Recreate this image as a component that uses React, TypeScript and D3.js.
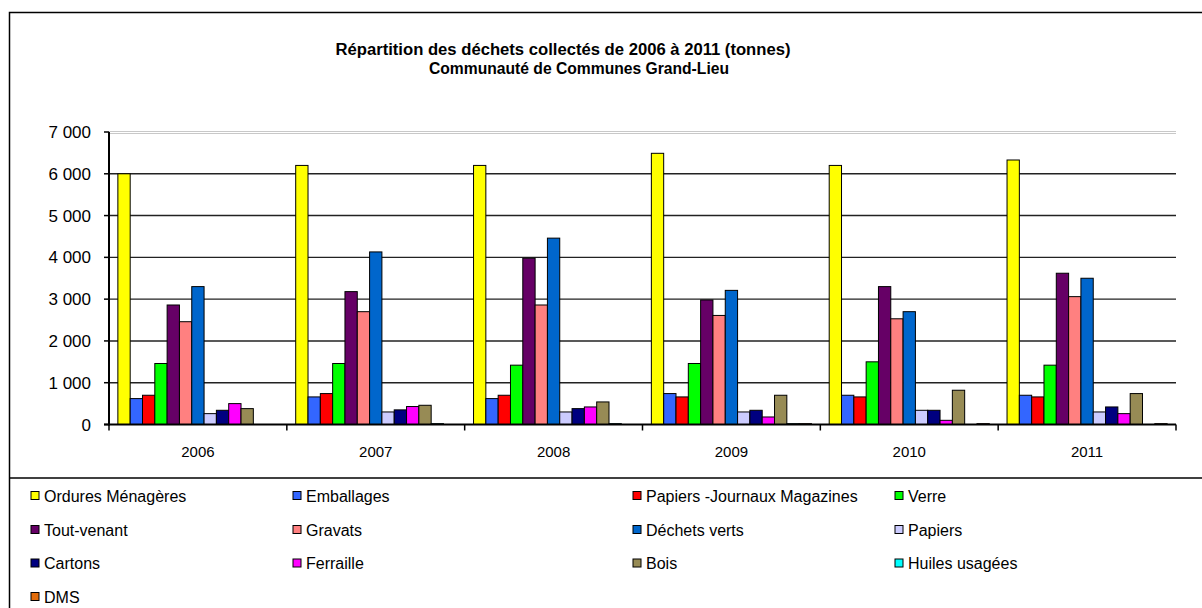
import React from "react";
import * as d3 from "d3";

const years = ["2006", "2007", "2008", "2009", "2010", "2011"];

const seriesNames = [
  "Ordures Ménagères",
  "Emballages",
  "Papiers -Journaux Magazines",
  "Verre",
  "Tout-venant",
  "Gravats",
  "Déchets verts",
  "Papiers",
  "Cartons",
  "Ferraille",
  "Bois",
  "Huiles usagées",
  "DMS",
];

const seriesColors = [
  "#FFFF00",
  "#3366FF",
  "#FF0000",
  "#00FF00",
  "#660066",
  "#FF8080",
  "#0066CC",
  "#CCCCFF",
  "#000080",
  "#FF00FF",
  "#978B55",
  "#00FFFF",
  "#E36C0A",
];

// values per series, indexed by year 2006..2011
const ordures = [6000, 6200, 6200, 6490, 6200, 6330];
const emballages = [620, 660, 620, 740, 700, 700];
const papiersJM = [700, 740, 700, 660, 660, 660];
const verre = [1460, 1460, 1420, 1460, 1500, 1420];
const toutVenant = [2860, 3180, 3980, 2980, 3300, 3620];
const gravats = [2460, 2700, 2860, 2610, 2530, 3060];
const dechetsVerts = [3300, 4130, 4460, 3210, 2700, 3500];
const papiers = [260, 300, 300, 300, 340, 300];
const cartons = [340, 350, 380, 340, 340, 420];
const ferraille = [500, 430, 420, 180, 100, 260];
const bois = [380, 460, 540, 700, 820, 740];
const huiles = [0, 20, 20, 20, 0, 0];
const dms = [0, 0, 0, 20, 20, 20];

const seriesValues = [
  ordures, emballages, papiersJM, verre, toutVenant, gravats,
  dechetsVerts, papiers, cartons, ferraille, bois, huiles, dms,
];

const yTicks = [0, 1000, 2000, 3000, 4000, 5000, 6000, 7000];
const yTickLabels = ["0", "1 000", "2 000", "3 000", "4 000", "5 000", "6 000", "7 000"];

const titleLines = [
  "Répartition des déchets collectés de 2006 à 2011 (tonnes)",
  "Communauté de Communes Grand-Lieu",
];

const W = 1202;
const H = 608;
const plotLeft = 109;
const plotRight = 1176;
const plotTop = 132;
const plotBottom = 424.5;
const titleCenters = [563, 579];
const titleWidths = [455, 300];
const legendCols = [31, 293, 633, 895];
const legendRows = [496, 530, 563.5, 597];
const font = "'Liberation Sans', Arial, sans-serif";

export default function App() {
  const x0 = d3.scaleBand<string>().domain(years).range([plotLeft, plotRight]).padding(0);
  const x1 = d3
    .scaleBand<number>()
    .domain(d3.range(seriesNames.length))
    .range([0, x0.bandwidth()])
    .paddingInner(0)
    .paddingOuter(0.72);
  const y = d3.scaleLinear().domain([0, 7000]).range([plotBottom, plotTop]);

  const boundaries = years.map((yr) => x0(yr)!).concat([plotRight]);

  return (
    <div style={{ position: "absolute", left: 0, top: 0, width: W, height: H, background: "#fff" }}>
      <svg width={W} height={H} style={{ display: "block", fontFamily: font }}>
        <rect x={0} y={0} width={W} height={H} fill="#fff" />
        {/* frame */}
        <rect x={9.5} y={12.5} width={W + 20} height={H + 20} fill="none" stroke="#000" strokeWidth={1.5} />
        <line x1={9.5} x2={W} y1={478} y2={478} stroke="#000" strokeWidth={1.5} />

        {/* title */}
        {titleLines.map((t, i) => (
          <text
            key={i}
            x={titleCenters[i]}
            y={55 + i * 19}
            textAnchor="middle"
            fontSize={16}
            fontWeight="bold"
            fill="#000"
            textLength={titleWidths[i]}
            lengthAdjust="spacingAndGlyphs"
          >
            {t}
          </text>
        ))}

        {/* gridlines */}
        {yTicks.map((v, i) =>
          v === 0 ? null : v === 7000 ? (
            <g key={i}>
              <line x1={plotLeft} x2={plotRight} y1={y(v) - 0.5} y2={y(v) - 0.5} stroke="#c8c8c8" strokeWidth={1} />
              <line x1={plotLeft} x2={plotRight} y1={y(v) + 1.5} y2={y(v) + 1.5} stroke="#c8c8c8" strokeWidth={1} />
            </g>
          ) : (
            <line key={i} x1={plotLeft} x2={plotRight} y1={y(v)} y2={y(v)} stroke="#222" strokeWidth={1.4} />
          )
        )}

        {/* bars */}
        {years.map((yr, yi) => (
          <g key={yr} transform={`translate(${x0(yr)},0)`}>
            {seriesValues.map((vals, si) => {
              const v = vals[yi];
              if (v <= 0) return null;
              const top = y(v);
              return (
                <rect
                  key={si}
                  x={x1(si)!}
                  y={top}
                  width={x1.bandwidth()}
                  height={Math.max(plotBottom - top, 0.5)}
                  fill={seriesColors[si]}
                  stroke="#000"
                  strokeWidth={1}
                />
              );
            })}
          </g>
        ))}

        {/* y axis */}
        <line x1={plotLeft} x2={plotLeft} y1={plotTop} y2={plotBottom + 1} stroke="#000" strokeWidth={2} />
        {yTicks.map((v, i) => (
          <g key={i}>
            <line x1={plotLeft - 5} x2={plotLeft} y1={y(v)} y2={y(v)} stroke="#000" strokeWidth={1.5} />
            <text x={plotLeft - 18} y={y(v) + 6} textAnchor="end" fontSize={17} fill="#000">
              {yTickLabels[i]}
            </text>
          </g>
        ))}

        {/* x axis */}
        <line x1={plotLeft - 5} x2={plotRight} y1={plotBottom} y2={plotBottom} stroke="#000" strokeWidth={2} />
        {boundaries.map((bx, i) => (
          <line key={i} x1={bx} x2={bx} y1={plotBottom} y2={plotBottom + 6} stroke="#000" strokeWidth={1.5} />
        ))}
        {years.map((yr) => (
          <text key={yr} x={x0(yr)! + x0.bandwidth() / 2} y={457} textAnchor="middle" fontSize={15} fill="#000">
            {yr}
          </text>
        ))}

        {/* legend */}
        {seriesNames.map((name, i) => {
          const col = i % 4;
          const row = Math.floor(i / 4);
          const lx = legendCols[col];
          const ly = legendRows[row];
          return (
            <g key={name}>
              <rect x={lx} y={ly - 4.5} width={8} height={8} fill={seriesColors[i]} stroke="#000" strokeWidth={1} />
              <text x={lx + 13} y={ly + 5.5} fontSize={16} fill="#000">
                {name}
              </text>
            </g>
          );
        })}
      </svg>
    </div>
  );
}
